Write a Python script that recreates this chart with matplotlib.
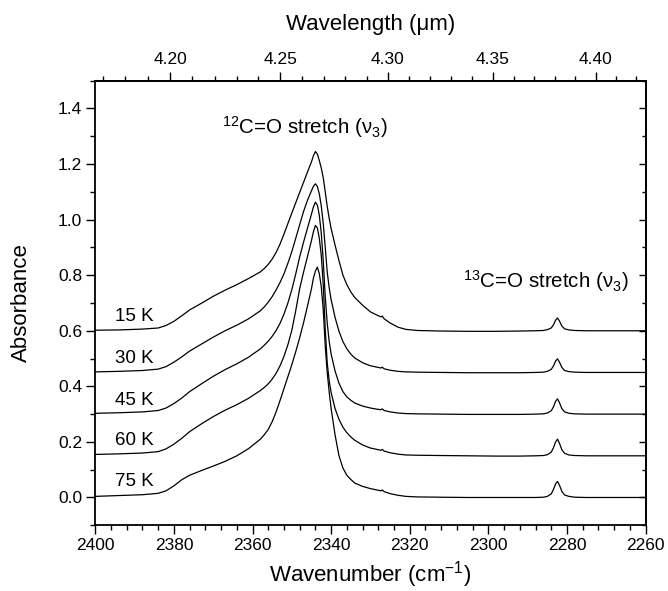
import matplotlib
matplotlib.use("Agg")
import matplotlib.pyplot as plt
from matplotlib.ticker import MultipleLocator, FixedLocator, FormatStrFormatter
import numpy as np

plt.rcParams["font.family"] = ["Liberation Sans", "DejaVu Sans"]
plt.rcParams["mathtext.fontset"] = "custom"
plt.rcParams["mathtext.rm"] = "Liberation Sans"
plt.rcParams["mathtext.it"] = "Liberation Sans:italic"
plt.rcParams["mathtext.bf"] = "Liberation Sans:bold"
plt.rcParams["mathtext.default"] = "rm"

# Wavenumber grid (cm^-1) shared by all spectra
WAVENUMBER = [
    2400, 2394, 2388, 2384, 2382, 2380, 2378, 2376, 2373, 2370,
    2367, 2364, 2361, 2358, 2357, 2356, 2355, 2354, 2353, 2352,
    2351, 2350, 2349, 2348, 2347, 2346, 2345, 2344.5, 2344, 2343.5,
    2343, 2342.5, 2342, 2341.5, 2341, 2340.5, 2340, 2339, 2338, 2337,
    2336, 2335, 2334, 2332, 2330, 2328, 2327.3, 2327, 2326.5, 2325,
    2323, 2321, 2318, 2312, 2305, 2298, 2292, 2288, 2286, 2285,
    2284, 2283.4, 2282.9, 2282.4, 2281.9, 2281.3, 2280.6, 2279.5, 2278, 2275,
    2270, 2265, 2260,
]

# Absorbance of CO2 ice at each temperature (stacked spectra)
ABS_15K = [
    0.602, 0.603, 0.606, 0.610, 0.619, 0.634, 0.654, 0.675, 0.699, 0.724,
    0.746, 0.766, 0.788, 0.812, 0.824, 0.839, 0.858, 0.882, 0.912, 0.948,
    0.986, 1.024, 1.061, 1.098, 1.135, 1.172, 1.208, 1.230, 1.245, 1.236,
    1.212, 1.185, 1.150, 1.100, 1.048, 1.005, 0.968, 0.908, 0.852, 0.800,
    0.766, 0.740, 0.720, 0.692, 0.668, 0.654, 0.650, 0.653, 0.643, 0.628,
    0.613, 0.605, 0.601, 0.599, 0.598, 0.598, 0.599, 0.600, 0.601, 0.604,
    0.610, 0.622, 0.638, 0.646, 0.635, 0.617, 0.607, 0.603, 0.601, 0.600,
    0.600, 0.600, 0.600,
]
ABS_30K = [
    0.452, 0.454, 0.457, 0.462, 0.471, 0.487, 0.506, 0.527, 0.552, 0.577,
    0.600, 0.620, 0.643, 0.672, 0.686, 0.703, 0.723, 0.747, 0.774, 0.805,
    0.843, 0.885, 0.933, 0.982, 1.030, 1.070, 1.104, 1.120, 1.129, 1.119,
    1.092, 1.048, 0.985, 0.900, 0.812, 0.755, 0.712, 0.648, 0.598, 0.561,
    0.535, 0.516, 0.502, 0.485, 0.474, 0.468, 0.466, 0.469, 0.463, 0.458,
    0.454, 0.452, 0.451, 0.450, 0.449, 0.449, 0.449, 0.450, 0.451, 0.454,
    0.461, 0.474, 0.491, 0.499, 0.487, 0.468, 0.457, 0.453, 0.451, 0.450,
    0.450, 0.450, 0.450,
]
ABS_45K = [
    0.303, 0.305, 0.308, 0.313, 0.322, 0.338, 0.358, 0.381, 0.409, 0.436,
    0.460, 0.481, 0.505, 0.535, 0.548, 0.563, 0.580, 0.601, 0.627, 0.660,
    0.700, 0.748, 0.805, 0.866, 0.920, 0.970, 1.020, 1.046, 1.063, 1.052,
    1.015, 0.950, 0.850, 0.722, 0.628, 0.562, 0.516, 0.455, 0.411, 0.381,
    0.362, 0.350, 0.340, 0.329, 0.322, 0.317, 0.316, 0.319, 0.313, 0.308,
    0.304, 0.302, 0.301, 0.300, 0.299, 0.299, 0.299, 0.300, 0.301, 0.304,
    0.312, 0.327, 0.346, 0.355, 0.341, 0.320, 0.308, 0.303, 0.301, 0.300,
    0.300, 0.300, 0.300,
]
ABS_60K = [
    0.155, 0.157, 0.160, 0.165, 0.175, 0.192, 0.213, 0.237, 0.265, 0.291,
    0.314, 0.334, 0.357, 0.385, 0.396, 0.409, 0.426, 0.447, 0.474, 0.508,
    0.550, 0.602, 0.673, 0.752, 0.812, 0.868, 0.925, 0.957, 0.979, 0.970,
    0.932, 0.870, 0.765, 0.605, 0.485, 0.420, 0.378, 0.320, 0.281, 0.253,
    0.233, 0.218, 0.206, 0.189, 0.178, 0.172, 0.170, 0.173, 0.167, 0.161,
    0.156, 0.153, 0.152, 0.151, 0.150, 0.149, 0.149, 0.150, 0.151, 0.154,
    0.163, 0.180, 0.200, 0.210, 0.195, 0.172, 0.159, 0.153, 0.151, 0.150,
    0.150, 0.150, 0.150,
]
ABS_75K = [
    0.004, 0.007, 0.010, 0.015, 0.024, 0.042, 0.064, 0.080, 0.097, 0.113,
    0.130, 0.150, 0.176, 0.210, 0.226, 0.245, 0.273, 0.308, 0.349, 0.392,
    0.435, 0.478, 0.525, 0.575, 0.630, 0.690, 0.752, 0.790, 0.815, 0.829,
    0.805, 0.757, 0.675, 0.545, 0.450, 0.380, 0.320, 0.225, 0.150, 0.106,
    0.080, 0.065, 0.052, 0.040, 0.032, 0.026, 0.024, 0.027, 0.021, 0.014,
    0.008, 0.004, 0.002, 0.001, 0.000, 0.000, 0.000, 0.000, 0.001, 0.004,
    0.013, 0.030, 0.049, 0.058, 0.044, 0.022, 0.009, 0.004, 0.001, 0.000,
    0.000, 0.000, 0.000,
]

TEMPERATURES = ["15 K", "30 K", "45 K", "60 K", "75 K"]
SPECTRA = [ABS_15K, ABS_30K, ABS_45K, ABS_60K, ABS_75K]
LABEL_Y = [0.634, 0.483, 0.334, 0.189, 0.042]

# Wavelength ticks (um) on the top axis
WAVELENGTH_TICKS = [4.20, 4.25, 4.30, 4.35, 4.40]

for s in SPECTRA:
    assert len(s) == len(WAVENUMBER)

fig = plt.figure(figsize=(6.68, 5.91), dpi=100)
ax = fig.add_axes([0.1427, 0.1112, 0.8237, 0.7523])

for spec in SPECTRA:
    ax.plot(WAVENUMBER, spec, color="black", lw=0.9)

for name, y in zip(TEMPERATURES, LABEL_Y):
    ax.text(2395, y, name, fontsize=13.5, ha="left", va="baseline")

ax.text(2367.7, 1.309, r"$^{12}$C=O stretch ($\nu_3$)",
        fontsize=14.8, ha="left", va="baseline")
ax.text(2306.4, 0.756, r"$^{13}$C=O stretch ($\nu_3$)",
        fontsize=14.8, ha="left", va="baseline")

ax.set_xlim(2400, 2260)
ax.set_ylim(-0.1, 1.5)

ax.xaxis.set_major_locator(MultipleLocator(20))
ax.xaxis.set_minor_locator(MultipleLocator(4))
ax.xaxis.set_major_formatter(FormatStrFormatter("%d"))
ax.yaxis.set_major_locator(MultipleLocator(0.2))
ax.yaxis.set_minor_locator(MultipleLocator(0.1))
ax.yaxis.set_major_formatter(FormatStrFormatter("%.1f"))

ax.tick_params(which="both", direction="out", top=False, right=False,
               labelsize=12.5, width=1.0)
ax.tick_params(which="major", length=6.5, pad=3)
ax.tick_params(which="minor", length=3.6)

for sp in ax.spines.values():
    sp.set_linewidth(1.3)

ax.set_xlabel(r"Wavenumber (cm$^{-1}$)", fontsize=16, labelpad=4)
ax.set_ylabel("Absorbance", fontsize=16, labelpad=19)


def wn_to_um(x):
    x = np.asarray(x, dtype=float)
    with np.errstate(divide="ignore", invalid="ignore"):
        return 1e4 / x


top = ax.secondary_xaxis("top", functions=(wn_to_um, wn_to_um))
top.xaxis.set_major_locator(FixedLocator(WAVELENGTH_TICKS))
top.xaxis.set_minor_locator(MultipleLocator(0.01))
top.xaxis.set_major_formatter(FormatStrFormatter("%.2f"))
top.tick_params(which="both", direction="out", labelsize=12.5, width=1.0)
top.tick_params(which="major", length=6.5, pad=3)
top.tick_params(which="minor", length=3.6)
top.spines["top"].set_linewidth(1.3)
top.set_xlabel("Wavelength (μm)", fontsize=16, labelpad=16)

right = ax.secondary_yaxis("right")
right.yaxis.set_major_locator(MultipleLocator(0.2))
right.yaxis.set_minor_locator(MultipleLocator(0.1))
right.tick_params(which="both", direction="in", labelright=False, width=1.0)
right.tick_params(which="major", length=5)
right.tick_params(which="minor", length=3)
right.spines["right"].set_linewidth(1.3)

fig.savefig("out.png", dpi=100)
